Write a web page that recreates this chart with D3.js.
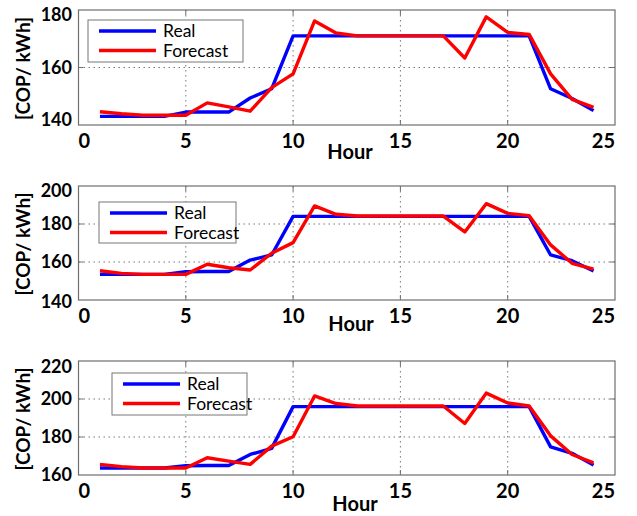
<!DOCTYPE html>
<html>
<head>
<meta charset="utf-8">
<script src="https://cdn.jsdelivr.net/npm/d3@7"></script>
<style>
  body { margin: 0; background: #fff; }
  svg { display: block; font-family: Lato, "Open Sans", sans-serif; }
  .grid { stroke: #777; stroke-width: 1; stroke-dasharray: 1.5,3.5; }
  .frame { fill: none; stroke: #6e6e6e; stroke-width: 1.2; }
  .tick-mark { stroke: #6e6e6e; stroke-width: 1; }
  .ylab { font-size: 18px; font-weight: bold; }
  .xlab { font-size: 20px; font-weight: bold; }
</style>
</head>
<body>
<svg id="chart"></svg>
<script>
let width = 637,
    height = 516;

// Datos (horas 1..24)
const hours = d3.range(1, 25);
const xTicks = [0, 5, 10, 15, 20, 25];

const real1 = [143, 143, 143, 143, 144.5, 144.5, 144.5, 149.4, 152.6, 171, 171, 171,
               171, 171, 171, 171, 171, 171, 171, 171, 171, 152.6, 149.2, 145];
const forecast1 = [144.6, 143.9, 143.4, 143.4, 143.4, 147.7, 146.3, 144.8, 153, 157.8, 176.2, 172,
                   171, 171, 171, 171, 171, 163.3, 177.6, 172.2, 171.5, 157.8, 148.9, 146.1];

const real2 = [153.5, 153.5, 153.5, 153.5, 154.9, 155, 155, 161, 163.7, 184, 184, 184,
               184, 184, 184, 184, 184, 184, 184, 184, 184, 163.7, 160.7, 155.3];
const forecast2 = [155.4, 154, 153.5, 153.5, 153.5, 158.8, 157, 155.8, 164.6, 170.2, 189.5, 185.1,
                   184.2, 184.2, 184.2, 184.2, 184.2, 175.8, 190.7, 185.6, 184.4, 169, 159.3, 156.3];

const real3 = [163.7, 163.7, 163.7, 163.7, 164.9, 165, 165, 170.8, 174, 196, 196, 196,
               196, 196, 196, 196, 196, 196, 196, 196, 196, 174.8, 171.4, 165.2];
const forecast3 = [165.6, 164.4, 163.7, 163.7, 163.7, 169.1, 167.3, 165.6, 175.2, 180.1, 201.6, 197.6,
                   196.3, 196.3, 196.3, 196.3, 196.3, 187.1, 203.1, 197.9, 196.3, 180.6, 170.8, 166.4];

const yTicks1 = [140, 160, 180];
const yTicks2 = [140, 160, 180, 200];
const yTicks3 = [160, 180, 200, 220];

const seriesNames = ["Real", "Forecast"];
const seriesColors = ["#0000ff", "#ff0000"];
const yTitle = "[COP/ kWh]";
const xTitle = "Hour";

// Disposicion de cada panel
const panels = [
  { real: real1, forecast: forecast1, yTicks: yTicks1, top: 10, bottom: 125,
    legend: { x: 88, y: 20, w: 155, h: 42 }, hour: [350, 159], yNudge: [-5, 5] },
  { real: real2, forecast: forecast2, yTicks: yTicks2, top: 186, bottom: 300,
    legend: { x: 99, y: 202, w: 137, h: 41 }, hour: [351, 331], yNudge: [2, 5] },
  { real: real3, forecast: forecast3, yTicks: yTicks3, top: 361, bottom: 475,
    legend: { x: 112, y: 373, w: 135, h: 42 }, hour: [355, 511], yNudge: [0, 6] }
];

let svg = d3.select("#chart")
    .attr("width", width)
    .attr("height", height);

let x = d3.scaleLinear().domain([0, 25]).range([78.5, 615]);

panels.forEach(function(p) {
    let y = d3.scaleLinear()
        .domain(d3.extent(p.yTicks))
        .range([p.bottom, p.top]);

    let g = svg.append("g");

    // Rejilla punteada
    g.selectAll(".gx")
        .data(xTicks.slice(1, -1))
        .enter().append("line")
        .attr("class", "grid")
        .attr("x1", d => x(d)).attr("x2", d => x(d))
        .attr("y1", p.top).attr("y2", p.bottom);

    g.selectAll(".gy")
        .data(p.yTicks.slice(1, -1))
        .enter().append("line")
        .attr("class", "grid")
        .attr("x1", x.range()[0]).attr("x2", x.range()[1])
        .attr("y1", d => y(d)).attr("y2", d => y(d));

    // Marcas interiores
    xTicks.slice(1, -1).forEach(function(t) {
        g.append("line").attr("class", "tick-mark")
            .attr("x1", x(t)).attr("x2", x(t)).attr("y1", p.bottom).attr("y2", p.bottom - 5);
        g.append("line").attr("class", "tick-mark")
            .attr("x1", x(t)).attr("x2", x(t)).attr("y1", p.top).attr("y2", p.top + 5);
    });
    p.yTicks.slice(1, -1).forEach(function(t) {
        g.append("line").attr("class", "tick-mark")
            .attr("x1", x.range()[0]).attr("x2", x.range()[0] + 5).attr("y1", y(t)).attr("y2", y(t));
        g.append("line").attr("class", "tick-mark")
            .attr("x1", x.range()[1]).attr("x2", x.range()[1] - 5).attr("y1", y(t)).attr("y2", y(t));
    });

    // Lineas de datos
    let line = d3.line()
        .x((d, i) => x(hours[i]))
        .y(d => y(d));

    [p.real, p.forecast].forEach(function(vals, k) {
        g.append("path")
            .datum(vals)
            .attr("fill", "none")
            .attr("stroke", seriesColors[k])
            .attr("stroke-width", 3.4)
            .attr("stroke-linejoin", "round")
            .attr("d", line);
    });

    // Marco
    g.append("rect")
        .attr("class", "frame")
        .attr("x", x.range()[0]).attr("y", p.top)
        .attr("width", x.range()[1] - x.range()[0])
        .attr("height", p.bottom - p.top);

    // Etiquetas del eje y
    let n = p.yTicks.length;
    g.selectAll(".ylab")
        .data(p.yTicks)
        .enter().append("text")
        .attr("class", "ylab")
        .attr("x", 72)
        .attr("y", function(d, i) {
            let off = i === 0 ? p.yNudge[0] : (i === n - 1 ? p.yNudge[1] : 0);
            return y(d) + off;
        })
        .attr("dy", "0.35em")
        .attr("text-anchor", "end")
        .text(d => d);

    // Etiquetas del eje x
    g.selectAll(".xlab")
        .data(xTicks)
        .enter().append("text")
        .attr("class", "xlab")
        .attr("x", d => x(d))
        .attr("y", p.bottom + 23)
        .attr("text-anchor", (d, i) => i === 0 ? "start" : (i === xTicks.length - 1 ? "end" : "middle"))
        .text(d => d);

    // Titulo del eje x
    g.append("text")
        .attr("x", p.hour[0]).attr("y", p.hour[1])
        .attr("text-anchor", "middle")
        .attr("font-size", "20px")
        .attr("font-weight", "bold")
        .text(xTitle);

    // Titulo del eje y
    g.append("text")
        .attr("transform", "translate(30," + ((p.top + p.bottom) / 2 + 1) + ") rotate(-90)")
        .attr("text-anchor", "middle")
        .attr("font-size", "19px")
        .attr("font-weight", "bold")
        .text(yTitle);

    // Leyenda
    let L = p.legend;
    let lg = g.append("g").attr("transform", "translate(" + L.x + "," + L.y + ")");
    lg.append("rect")
        .attr("width", L.w).attr("height", L.h)
        .attr("fill", "#fff")
        .attr("stroke", "#777")
        .attr("stroke-width", 1);
    seriesNames.forEach(function(name, k) {
        let ly = 11 + k * 19.5;
        lg.append("line")
            .attr("x1", 11).attr("x2", 68)
            .attr("y1", ly).attr("y2", ly)
            .attr("stroke", seriesColors[k])
            .attr("stroke-width", 3.4);
        lg.append("text")
            .attr("x", 75).attr("y", ly)
            .attr("dy", "0.36em")
            .attr("font-size", "17.5px")
            .text(name);
    });
});
</script>
</body>
</html>
